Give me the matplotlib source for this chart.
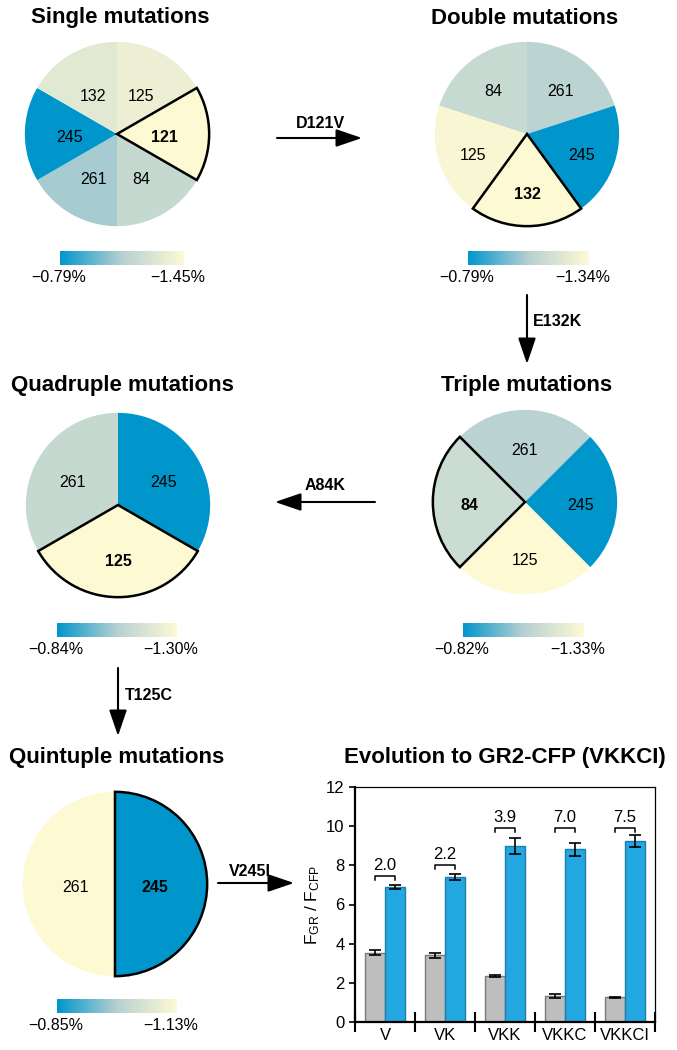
"""Mutation-site pie charts along the GR2-CFP evolution path, plus the
fluorescence ratio bar chart for each intermediate variant."""

import matplotlib
import numpy as np

matplotlib.use("Agg")
import matplotlib.pyplot as plt  # noqa: E402
from matplotlib.colors import LinearSegmentedColormap, Normalize  # noqa: E402
from matplotlib.colorbar import ColorbarBase  # noqa: E402

W, H = 677, 1050

# --- pie data: sites clockwise from the start angle, change in percent ---
SINGLE_SITES = ["125", "121", "84", "261", "245", "132"]
SINGLE_CHANGE = [-1.37, -1.45, -1.19, -1.09, -0.79, -1.32]
SINGLE_RANGE = (-0.79, -1.45)

DOUBLE_SITES = ["261", "245", "132", "125", "84"]
DOUBLE_CHANGE = [-1.09, -0.79, -1.34, -1.32, -1.13]
DOUBLE_RANGE = (-0.79, -1.34)

TRIPLE_SITES = ["261", "245", "125", "84"]
TRIPLE_CHANGE = [-1.09, -0.82, -1.33, -1.15]
TRIPLE_RANGE = (-0.82, -1.33)

QUAD_SITES = ["245", "125", "261"]
QUAD_CHANGE = [-0.84, -1.30, -1.12]
QUAD_RANGE = (-0.84, -1.30)

QUINT_SITES = ["245", "261"]
QUINT_CHANGE = [-0.85, -1.13]
QUINT_RANGE = (-0.85, -1.13)

# --- bar data ---
VARIANTS = ["V", "VK", "VKK", "VKKC", "VKKCI"]
RATIO_GRAY = [3.54, 3.40, 2.33, 1.33, 1.26]
RATIO_GRAY_ERR = [0.12, 0.11, 0.05, 0.08, 0.03]
RATIO_BLUE = [6.89, 7.40, 9.00, 8.81, 9.24]
RATIO_BLUE_ERR = [0.11, 0.15, 0.42, 0.32, 0.29]
FOLD = ["2.0", "2.2", "3.9", "7.0", "7.5"]

# layout only
BRACKET_Y = [7.45, 8.0, 9.9, 9.9, 9.9]

CMAP = LinearSegmentedColormap.from_list(
    "site", ["#FDF9D3", "#B6D0D1", "#0096CC"]
)

PANELS = [
    # title, sites, change, range, picked, start, centre, title pos, cbar, label r
    ("Single mutations", SINGLE_SITES, SINGLE_CHANGE, SINGLE_RANGE, "121",
     90, (117, 134), (120, 18), (60, 184, 251), 0.52),
    ("Double mutations", DOUBLE_SITES, DOUBLE_CHANGE, DOUBLE_RANGE, "132",
     90, (527, 134), (525, 18), (468, 589, 251), 0.62),
    ("Triple mutations", TRIPLE_SITES, TRIPLE_CHANGE, TRIPLE_RANGE, "84",
     135, (525, 502), (527, 385), (463, 584, 623), 0.60),
    ("Quadruple mutations", QUAD_SITES, QUAD_CHANGE, QUAD_RANGE, "125",
     90, (118, 505), (122, 385), (57, 177, 623), 0.57),
    ("Quintuple mutations", QUINT_SITES, QUINT_CHANGE, QUINT_RANGE, "245",
     90, (115, 884), (117, 758), (57, 177, 999), 0.43),
]

ARROWS = [
    ("D121V", (277, 138), (362, 138), (320, 124), "center"),
    ("E132K", (527, 295), (527, 364), (533, 322), "left"),
    ("A84K", (375, 502), (275, 502), (325, 486), "center"),
    ("T125C", (118, 668), (118, 736), (125, 695), "left"),
    ("V245I", (218, 883), (294, 883), (250, 871), "center"),
]

RADIUS = 94


def rect(left, top, width, height):
    return [left / W, 1 - (top + height) / H, width / W, height / H]


def fmt(value):
    return f"\u2212{abs(value):.2f}%"


def draw_pie(fig, panel):
    title, sites, change, vrange, picked, start, centre, tpos, cbar, lab_r = panel
    cx, cy = centre
    ax = fig.add_axes(rect(cx - RADIUS, cy - RADIUS, 2 * RADIUS, 2 * RADIUS))
    norm = Normalize(vmin=min(vrange), vmax=max(vrange))
    colors = [CMAP(norm(v)) for v in change]
    wedges, _ = ax.pie(
        [1] * len(sites), colors=colors, startangle=start,
        counterclock=False, radius=1.0,
        wedgeprops={"linewidth": 0, "antialiased": True},
    )
    for wedge, site in zip(wedges, sites):
        mid = np.deg2rad((wedge.theta1 + wedge.theta2) / 2)
        bold = site == picked
        if bold:
            wedge.set_edgecolor("black")
            wedge.set_linewidth(1.8)
            wedge.set_zorder(3)
        ax.text(lab_r * np.cos(mid), lab_r * np.sin(mid) - 0.04, site,
                ha="center", va="center", fontsize=11.5,
                fontweight="bold" if bold else "normal", zorder=4)
    ax.set_xlim(-1.02, 1.02)
    ax.set_ylim(-1.02, 1.02)
    ax.set_aspect("equal")
    ax.axis("off")

    fig.text(tpos[0] / W, 1 - tpos[1] / H, title, ha="center", va="center",
             fontsize=16, fontweight="bold")

    left, right, top = cbar
    cax = fig.add_axes(rect(left, top, right - left, 14))
    cb = ColorbarBase(cax, cmap=CMAP, norm=norm, orientation="horizontal")
    cb.outline.set_visible(False)
    cax.invert_xaxis()
    cax.set_xticks([])
    fig.text((left - 1) / W, 1 - (top + 27) / H, fmt(vrange[0]),
             ha="center", va="center", fontsize=11.5)
    fig.text((right - 6) / W, 1 - (top + 27) / H, fmt(vrange[1]),
             ha="center", va="center", fontsize=11.5)


def draw_arrows(fig):
    overlay = fig.add_axes([0, 0, 1, 1], zorder=-1)
    overlay.set_xlim(0, W)
    overlay.set_ylim(H, 0)
    overlay.axis("off")
    for label, start, end, tpos, ha in ARROWS:
        overlay.annotate(
            "", xy=end, xytext=start,
            arrowprops={
                "arrowstyle": "-|>,head_length=1.0,head_width=0.34",
                "mutation_scale": 16, "color": "black", "linewidth": 1.5,
                "shrinkA": 0, "shrinkB": 0,
            },
        )
        overlay.text(tpos[0], tpos[1], label, ha=ha, va="center",
                     fontsize=11.5, fontweight="bold")


def draw_bars(fig):
    ax = fig.add_axes(rect(355, 787, 300, 235))
    x = np.arange(len(VARIANTS))
    err_kw = {"elinewidth": 1.2, "capthick": 1.2, "ecolor": "black"}
    ax.bar(x - 0.17, RATIO_GRAY, 0.34, yerr=RATIO_GRAY_ERR, capsize=4,
           color="#BEBEBE", edgecolor="#7A7A7A", linewidth=1.0,
           error_kw=err_kw)
    ax.bar(x + 0.17, RATIO_BLUE, 0.34, yerr=RATIO_BLUE_ERR, capsize=4,
           color="#22A7E0", edgecolor="#1B7FAE", linewidth=1.0,
           error_kw=err_kw)

    for xi, level, fold in zip(x, BRACKET_Y, FOLD):
        ax.plot([xi - 0.17, xi - 0.17, xi + 0.17, xi + 0.17],
                [level - 0.2, level, level, level - 0.2],
                color="black", linewidth=1.1)
        ax.text(xi, level + 0.55, fold, ha="center", va="center", fontsize=12)

    ax.set_xlim(-0.5, 4.5)
    ax.set_ylim(0, 12)
    ax.set_yticks(range(0, 13, 2))
    ax.set_xticks(x, VARIANTS)
    ax.set_xticks(np.arange(-0.5, 5.0, 1.0), minor=True)
    ax.tick_params(axis="x", which="major", length=0, labelsize=12, pad=4)
    ax.tick_params(axis="x", which="minor", direction="inout", length=14,
                   width=1.5)
    ax.tick_params(axis="y", direction="out", length=4, width=1.2,
                   labelsize=12)
    for side in ("left", "bottom"):
        ax.spines[side].set_linewidth(1.6)
    for side in ("top", "right"):
        ax.spines[side].set_linewidth(0.9)
    ax.set_ylabel("F$_{GR}$ / F$_{CFP}$", fontsize=12.5, labelpad=3)
    fig.text(505 / W, 1 - 758 / H, "Evolution to GR2-CFP (VKKCI)",
             ha="center", va="center", fontsize=16, fontweight="bold")


def main():
    plt.rcParams.update({
        "font.family": ["Liberation Sans", "DejaVu Sans"],
        "mathtext.default": "regular",
    })
    fig = plt.figure(figsize=(W / 100, H / 100), dpi=100)
    draw_arrows(fig)
    for panel in PANELS:
        draw_pie(fig, panel)
    draw_bars(fig)
    fig.savefig("out.png", dpi=100, facecolor="white")
    plt.close(fig)


if __name__ == "__main__":
    main()
